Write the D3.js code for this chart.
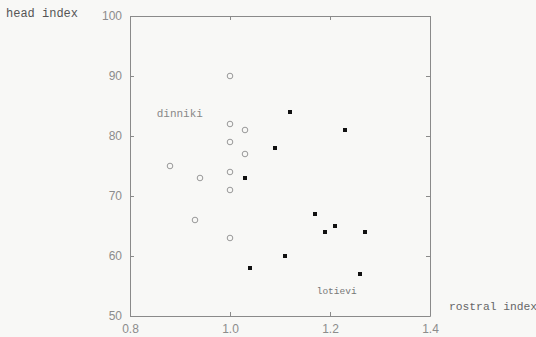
<!DOCTYPE html>
<html lang="en">
<head>
    <meta charset="UTF-8">
    <title>head index vs rostral index</title>
    <script src="https://d3js.org/d3.v7.min.js"></script>
    <style>
        body { margin: 0; background: #f8f8f6; }
    </style>
</head>
<body>

    <script>
        // dinniki (open circles)
        const dinnikiX = [0.88, 0.94, 0.93, 1.00, 1.00, 1.00, 1.00, 1.00, 1.00, 1.03, 1.03];
        const dinnikiY = [75, 73, 66, 90, 82, 79, 74, 71, 63, 81, 77];

        // lotievi (filled points)
        const lotieviX = [1.03, 1.09, 1.12, 1.23, 1.17, 1.21, 1.19, 1.27, 1.04, 1.11, 1.26];
        const lotieviY = [73, 78, 84, 81, 67, 65, 64, 64, 58, 60, 57];

        const xTicks = [0.8, 1.0, 1.2, 1.4];
        const xTickLabels = ['0.8', '1.0', '1.2', '1.4'];
        const yTicks = [50, 60, 70, 80, 90, 100];

        const width = 536, height = 337;
        const margin = { top: 16, right: 106, bottom: 21, left: 130 };
        const w = width - margin.left - margin.right;
        const h = height - margin.top - margin.bottom;

        const svg = d3.select('body')
            .append('svg')
            .attr('width', width)
            .attr('height', height);

        const g = svg.append('g')
            .attr('transform', 'translate(' + margin.left + ',' + margin.top + ')');

        const xScale = d3.scaleLinear().domain([0.8, 1.4]).range([0, w]);
        const yScale = d3.scaleLinear().domain([50, 100]).range([h, 0]);

        const axisColor = '#8a8a8a';
        const textColor = '#8c8c8c';

        // box with inward ticks
        const axisBottomG = g.append('g')
            .attr('transform', 'translate(0,' + h + ')')
            .call(d3.axisBottom(xScale).tickValues(xTicks)
                .tickFormat((d, i) => xTickLabels[i])
                .tickSizeInner(-4).tickSizeOuter(0).tickPadding(8));
        const axisLeftG = g.append('g')
            .call(d3.axisLeft(yScale).tickValues(yTicks)
                .tickSizeInner(-4).tickSizeOuter(0).tickPadding(8));
        const axisTopG = g.append('g')
            .call(d3.axisTop(xScale).tickValues(xTicks)
                .tickFormat('').tickSizeInner(-4).tickSizeOuter(0));
        const axisRightG = g.append('g')
            .attr('transform', 'translate(' + w + ',0)')
            .call(d3.axisRight(yScale).tickValues(yTicks)
                .tickFormat('').tickSizeInner(-4).tickSizeOuter(0));

        [axisBottomG, axisLeftG, axisTopG, axisRightG].forEach(a => {
            a.selectAll('path, line').attr('stroke', axisColor);
            a.selectAll('text')
                .attr('fill', textColor)
                .style('font-family', 'Liberation Sans, Arial, sans-serif')
                .style('font-size', '12px');
        });

        // dinniki points
        g.selectAll('circle.dinniki')
            .data(dinnikiX.map((x, i) => ({ x: x, y: dinnikiY[i] })))
            .enter()
            .append('circle')
            .attr('class', 'dinniki')
            .attr('cx', d => xScale(d.x))
            .attr('cy', d => yScale(d.y))
            .attr('r', 2.8)
            .attr('fill', 'none')
            .attr('stroke', '#999')
            .attr('stroke-width', 1);

        // lotievi points
        g.selectAll('rect.lotievi')
            .data(lotieviX.map((x, i) => ({ x: x, y: lotieviY[i] })))
            .enter()
            .append('rect')
            .attr('class', 'lotievi')
            .attr('x', d => xScale(d.x) - 2)
            .attr('y', d => yScale(d.y) - 2)
            .attr('width', 4)
            .attr('height', 4)
            .attr('fill', '#111');

        // labels
        const mono = 'Liberation Mono, DejaVu Sans Mono, monospace';
        g.append('text')
            .attr('x', xScale(0.8534))
            .attr('y', yScale(83.2))
            .attr('fill', '#888')
            .style('font-family', mono)
            .style('font-size', '11px')
            .text('dinniki');

        g.append('text')
            .attr('x', xScale(1.1734))
            .attr('y', yScale(53.7))
            .attr('fill', '#777')
            .style('font-family', mono)
            .style('font-size', '9.5px')
            .text('lotievi');

        svg.append('text')
            .attr('x', 6)
            .attr('y', 17)
            .attr('fill', '#555')
            .style('font-family', mono)
            .style('font-size', '12px')
            .text('head index');

        svg.append('text')
            .attr('x', 449)
            .attr('y', 310)
            .attr('fill', '#666')
            .style('font-family', mono)
            .style('font-size', '11.3px')
            .text('rostral index');
    </script>

</body>
</html>
